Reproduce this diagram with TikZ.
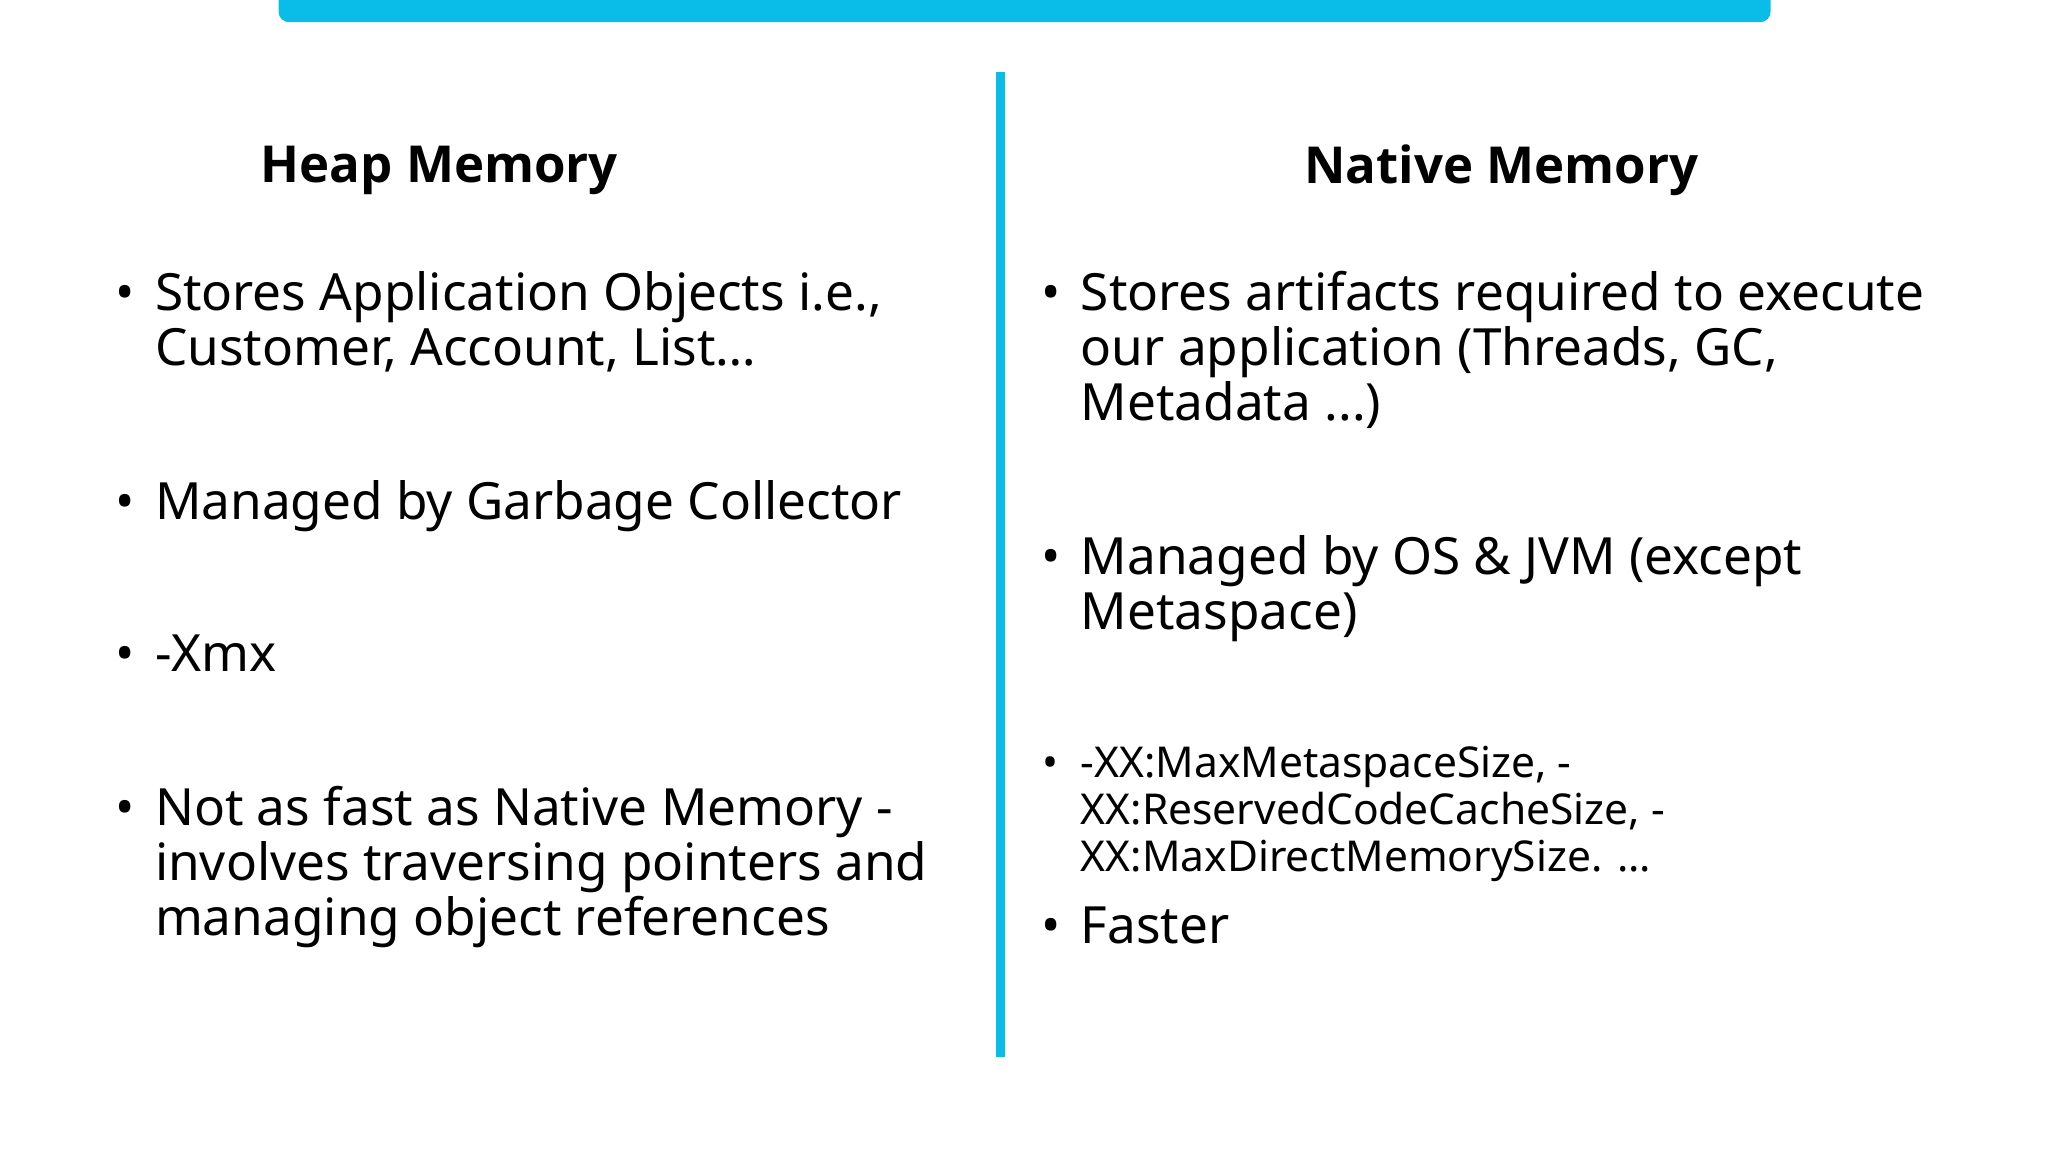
\documentclass[tikz,border=0pt]{standalone}
\usepackage{fontspec}
\setmainfont{Noto Sans}
\newfontfamily\ttlfont{Open Sans}
\definecolor{cy}{HTML}{0ABDE8}
\begin{document}
\begin{tikzpicture}[x=0.013078cm,y=-0.013078cm,
  ln/.style={anchor=mid west,inner sep=0pt,font=\fontsize{14.6}{17}\selectfont},
  sm/.style={anchor=mid west,inner sep=0pt,font=\fontsize{12.1}{14}\selectfont},
  ttl/.style={inner sep=0pt,font=\ttlfont\fontsize{14.5}{18}\selectfont\bfseries}]
\useasboundingbox (0,0) rectangle (20.48cm,-11.52cm);
\fill[cy,rounded corners=3] (213,-10) rectangle (1354,17);
\draw[cy,line width=7*0.371pt] (765,55) coordinate (vt) -- (765,808) coordinate (vb);
\node[ttl] (h) at (336,130) {Heap Memory};
\node[ttl] (n) at (1148,130) {Native Memory};
% left
\foreach \y in {230,390,506,624}{\node[ln] at (88,\y) {•};}
\node[ln] (l1) at (118,230) {Stores Application Objects i.e.,};
\node[ln] (l2) at (118,272) {Customer, Account, List…};
\node[ln] (l3) at (118,390) {Managed by Garbage Collector};
\node[ln] (l4) at (118,506) {-Xmx};
\node[ln] (l5) at (118,624) {Not as fast as Native Memory -};
\node[ln] (l6) at (118,666) {involves traversing pointers and};
\node[ln] (l7) at (118,708) {managing object references};
% right
\foreach \y in {230,432,714}{\node[ln] at (796,\y) {•};}
\node[sm] at (797,587) {•};
\node[ln] (r1) at (826,230) {Stores artifacts required to execute};
\node[ln] (r2) at (826,272) {our application (Threads, GC,};
\node[ln] (r3) at (826,314) {Metadata ...)};
\node[ln] (r4) at (826,432) {Managed by OS \& JVM (except};
\node[ln] (r5) at (826,474) {Metaspace)};
\node[sm] (r6) at (826,587) {-XX:MaxMetaspaceSize, -};
\node[sm] (r7) at (826,623) {XX:ReservedCodeCacheSize, -};
\node[sm] (r8) at (826,659) {XX:MaxDirectMemorySize. ...};
\node[ln] (r9) at (826,714) {Faster};
\end{tikzpicture}
\end{document}
